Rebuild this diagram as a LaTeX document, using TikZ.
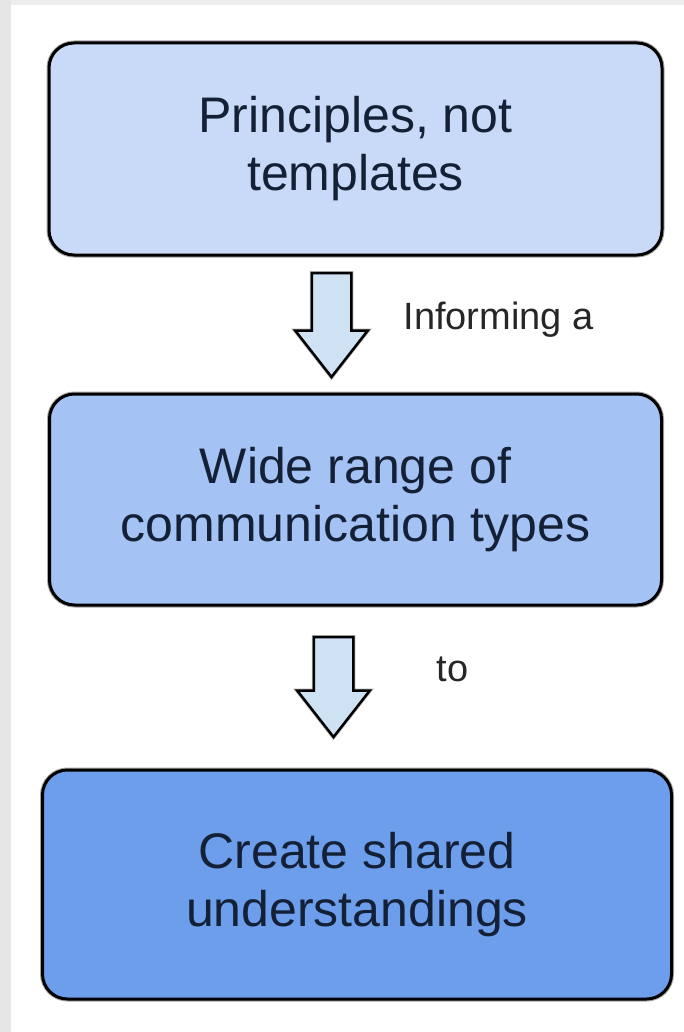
\documentclass[tikz,border=0pt]{standalone}
\usepackage{fontspec}
\setmainfont{Liberation Sans}
\usetikzlibrary{positioning,shapes.arrows}

\definecolor{stepone}{HTML}{C9DAF8}
\definecolor{steptwo}{HTML}{A4C2F4}
\definecolor{stepthree}{HTML}{6D9EEB}
\definecolor{arrowfill}{HTML}{CFE2F3}
\definecolor{boxtext}{HTML}{142036}
\definecolor{stripgray}{HTML}{E6E6E6}

\tikzset{
    stepbox/.style={rectangle, rounded corners=25pt, draw=black, line width=3pt,
        preaction={draw=gray!70, line width=5pt},
        text=boxtext, align=center, inner sep=0pt, outer sep=0pt,
        font=\fontsize{50}{58}\selectfont},
    downarrow/.style={single arrow, draw=black, line width=2.5pt, fill=arrowfill,
        preaction={draw=gray!60, line width=4pt},
        shape border rotate=270, single arrow head extend=16.5pt,
        single arrow tip angle=76, minimum width=70pt, inner sep=18.5pt, outer sep=0pt},
    steplabel/.style={text=black!85, inner sep=0pt, font=\fontsize{38}{44}\selectfont}
}

\begin{document}
\begin{tikzpicture}[x=1pt,y=1pt]
    \useasboundingbox (0,0) rectangle (684,-1032);
    % page edges
    \fill[stripgray!70] (0,0) rectangle (684,-5);
    \fill[stripgray] (0,0) rectangle (11,-1032);

    \node[stepbox, fill=stepone, minimum width=613pt, minimum height=212pt] (princ) at (355.5,-149)
        {Principles, not\\templates};
    \node[downarrow, minimum height=104pt, below=18pt of princ, xshift=-24pt] (arr1) {};
    \node[steplabel, right=52pt of arr1, yshift=-7pt] (inform) {Informing a};

    \node[stepbox, fill=steptwo, minimum width=612pt, minimum height=211pt, below=139pt of princ] (range)
        {Wide range of\\communication types};
    \node[downarrow, minimum height=100pt, below=32pt of range, xshift=-22pt] (arr2) {};
    \node[steplabel, right=83pt of arr2, yshift=5pt] (to) {to};

    \node[stepbox, fill=stepthree, minimum width=629pt, minimum height=229pt, below=165pt of range, xshift=1.5pt] (shared)
        {Create shared\\understandings};
\end{tikzpicture}
\end{document}
